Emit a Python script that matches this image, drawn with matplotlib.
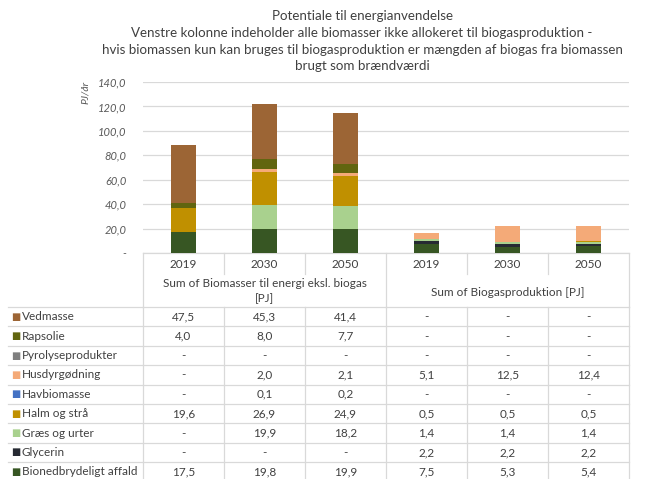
import matplotlib
matplotlib.use('Agg')
import matplotlib.pyplot as plt
from matplotlib.ticker import FuncFormatter, MultipleLocator
from matplotlib.lines import Line2D

# ---------------- data ----------------
years = ['2019', '2030', '2050', '2019', '2030', '2050']
group_labels = ['Sum of Biomasser til energi eksl. biogas\n[PJ]', 'Sum of Biogasproduktion [PJ]']
series_names = ['Vedmasse', 'Rapsolie', 'Pyrolyseprodukter', 'Husdyrgødning', 'Havbiomasse',
                'Halm og strå', 'Græs og urter', 'Glycerin', 'Bionedbrydeligt affald']
vedmasse = [47.5, 45.3, 41.4, 0, 0, 0]
rapsolie = [4.0, 8.0, 7.7, 0, 0, 0]
pyrolyse = [0, 0, 0, 0, 0, 0]
husdyr = [0, 2.0, 2.1, 5.1, 12.5, 12.4]
havbiomasse = [0, 0.1, 0.2, 0, 0, 0]
halm = [19.6, 26.9, 24.9, 0.5, 0.5, 0.5]
graes = [0, 19.9, 18.2, 1.4, 1.4, 1.4]
glycerin = [0, 0, 0, 2.2, 2.2, 2.2]
bioaffald = [17.5, 19.8, 19.9, 7.5, 5.3, 5.4]
series_values = [vedmasse, rapsolie, pyrolyse, husdyr, havbiomasse, halm, graes, glycerin, bioaffald]
series_colors = ['#9C6535', '#61650F', '#7F7F7F', '#F4AA78', '#4472C4',
                 '#C09000', '#A9D18E', '#262A33', '#375623']
title_lines = ['Potentiale til energianvendelse',
               'Venstre kolonne indeholder alle biomasser ikke allokeret til biogasproduktion -',
               'hvis biomassen kun kan bruges til biogasproduktion er mængden af biogas fra biomassen',
               'brugt som brændværdi']

# ---------------- style ----------------
FONT = ['Lato', 'DejaVu Sans']
plt.rcParams['font.family'] = FONT
TXT = '#404040'
GRID = '#D9D9D9'

W, H = 657, 479
fig = plt.figure(figsize=(W / 100, H / 100), dpi=100)

# chart axes (pixel layout)
x0, x1 = 143, 629
y_top, y_bot = 82, 253
ax = fig.add_axes([x0 / W, 1 - y_bot / H, (x1 - x0) / W, (y_bot - y_top) / H])
n = len(years)
xs = list(range(n))
bottom = [0.0] * n
for name, vals, col in zip(series_names[::-1], series_values[::-1], series_colors[::-1]):
    ax.bar(xs, vals, width=0.31, bottom=bottom, color=col, label=name, zorder=3)
    bottom = [b + v for b, v in zip(bottom, vals)]
ax.set_xlim(-0.5, n - 0.5)
ax.set_ylim(0, 140)
ax.yaxis.set_major_locator(MultipleLocator(20))
ax.yaxis.set_major_formatter(FuncFormatter(lambda v, p: '-' if abs(v) < 1e-9 else f'{v:.1f}'.replace('.', ',')))
ax.grid(axis='y', color=GRID, linewidth=0.9, zorder=0)
for s in ['top', 'right', 'left']:
    ax.spines[s].set_visible(False)
ax.spines['bottom'].set_color(GRID)
ax.spines['bottom'].set_linewidth(0.9)
ax.set_xticks([])
ax.tick_params(axis='y', length=0, pad=12, labelsize=8, labelcolor='#595959')
for lab in ax.get_yticklabels():
    lab.set_fontstyle('italic')
ax.patch.set_alpha(0)

# y label
fig.text(85 / W, 1 - 92 / H, 'PJ/år', rotation=90, ha='center', va='center',
         fontsize=7.5, style='italic', color='#595959')

# title
title_y = [16, 33, 50, 66]
for line, ty in zip(title_lines, title_y):
    fig.text(362 / W, 1 - ty / H, line, ha='center', va='center', fontsize=9.6, color='#404040')

# ---------------- data table ----------------
tx = fig.add_axes([0, 0, 1, 1])
tx.set_xlim(0, W)
tx.set_ylim(H, 0)
tx.axis('off')
tx.patch.set_alpha(0)

col_w = (x1 - x0) / n
bounds = [x0 + i * col_w for i in range(n + 1)]
centers = [x0 + (i + 0.5) * col_w for i in range(n)]
lw = 0.9

def hline(xa, xb, y):
    tx.add_line(Line2D([xa, xb], [y, y], color=GRID, lw=lw))

def vline(x, ya, yb):
    tx.add_line(Line2D([x, x], [ya, yb], color=GRID, lw=lw))

# header: years
year_row_bot = 274
head_bot = 307
for i, yr in enumerate(years):
    tx.text(centers[i], 264, yr, ha='center', va='center', fontsize=8.5, color=TXT)
for i in range(1, n):
    if i != 3:
        vline(bounds[i], y_bot, year_row_bot)
for xb in (bounds[0], bounds[3], bounds[6]):
    vline(xb, y_bot, head_bot)
# group labels
tx.text((bounds[0] + bounds[3]) / 2, 291, group_labels[0], ha='center', va='center',
        fontsize=8.5, color=TXT, linespacing=1.45)
tx.text((bounds[3] + bounds[6]) / 2, 292, group_labels[1], ha='center', va='center',
        fontsize=8.5, color=TXT)

# rows
row_h = 19.4
label_left = 8
for r in range(len(series_names) + 1):
    hline(label_left, x1, head_bot + r * row_h)
for xb in bounds:
    vline(xb, head_bot, H)
for r, (name, vals, col) in enumerate(zip(series_names, series_values, series_colors)):
    cy = head_bot + (r + 0.5) * row_h
    tx.text(11, cy, '■', ha='left', va='center', fontsize=7, color=col, family='DejaVu Sans')
    tx.text(22, cy, name, ha='left', va='center', fontsize=8.5, color=TXT)
    for i, v in enumerate(vals):
        s = '-' if v == 0 else f'{v:.1f}'.replace('.', ',')
        tx.text(centers[i], cy, s, ha='center', va='center', fontsize=8.5, color=TXT)

fig.savefig('out.png', dpi=100, facecolor='white')
